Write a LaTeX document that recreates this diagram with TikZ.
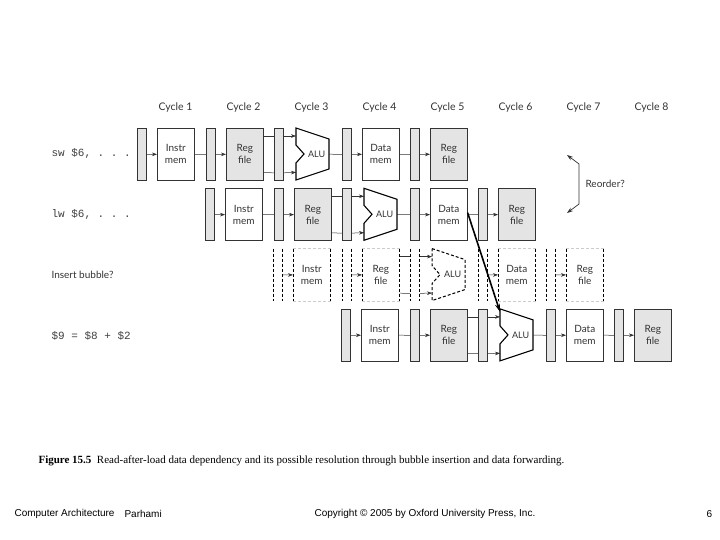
\documentclass[tikz,border=0pt]{standalone}
\usepackage{fontspec}
\setmainfont{Liberation Serif}
\setsansfont{Lato}
\setmonofont{Liberation Mono}
\usetikzlibrary{arrows.meta,calc}
\definecolor{edge}{HTML}{333333}
\definecolor{shade}{HTML}{E4E4E4}
\tikzset{
  latch/.style={draw=edge, fill=shade, minimum width=9pt, minimum height=52pt, inner sep=0pt, line width=0.8pt, anchor=north west},
  unit/.style={draw=edge, fill=white, minimum width=37pt, minimum height=52pt, inner sep=0pt, line width=0.6pt, anchor=north west,
    font=\sffamily\fontsize{10}{12}\selectfont, align=center, text=black!80},
  regf/.style={unit, fill=shade},
  dlatch/.style={latch, draw=none, fill=none},
  dunit/.style={unit, draw=none, fill=none},
  alubox/.style={minimum width=33pt, minimum height=52pt, inner sep=0pt, anchor=north west},
  arr/.style={-{Stealth[length=5pt,width=3.6pt]}, line width=0.5pt, draw=edge},
  wire/.style={line width=0.5pt, draw=edge},
  aluline/.style={line width=1.1pt, draw=black, line join=miter},
  dside/.style={dashed, dash pattern=on 3pt off 2pt, line width=0.7pt, draw=black},
  dtop/.style={dashed, dash pattern=on 3pt off 2pt, line width=0.5pt, draw=black!20},
  cyc/.style={font=\sffamily\fontsize{10.5}{12}\selectfont, text=black!80},
  instr/.style={font=\ttfamily\fontsize{11}{12}\selectfont, text=black!75, anchor=west},
  fwd/.style={-{Stealth[length=8pt,width=5pt]}, line width=1.6pt, draw=black},
  foot/.style={anchor=west, font=\fontspec{Liberation Sans}\fontsize{10}{12}\selectfont},
}
\begin{document}
\begin{tikzpicture}[x=1pt,y=-1pt]
\useasboundingbox (0,0) rectangle (720,540);
% cycle labels
\foreach \k in {1,...,8}
  \node[cyc] (cyc\k) at ({175.5+68*(\k-1)},107.5) {Cycle \k};
% instruction labels
\node[instr] (i1) at (48,154) {sw \$6, . . .};
\node[instr] (i2) at (48,214) {lw \$6, . . .};
\node[anchor=west, font=\sffamily\fontsize{10}{12}\selectfont, text=black!80] (i3) at (48,275) {Insert bubble?};
\node[instr] (i4) at (48,336) {\$9 = \$8 + \$2};
% pipeline rows
\foreach \r/\ls/\us/\rs in {1/latch/unit/regf, 2/latch/unit/regf, 3/dlatch/dunit/dunit, 4/latch/unit/regf}{
  \pgfmathsetmacro{\xo}{137+68*(\r-1)}
  \pgfmathsetmacro{\yt}{128+60.3*(\r-1)}
  \node[\ls] (L\r1) at (\xo,\yt) {};
  \node[\us] (B\r1) at (\xo+20,\yt) {Instr\\mem};
  \node[\ls] (L\r2) at (\xo+69,\yt) {};
  \node[\rs] (B\r2) at (\xo+89,\yt) {Reg\\file};
  \node[\ls] (L\r3) at (\xo+137,\yt) {};
  \node[alubox] (A\r) at (\xo+159,\yt) {};
  \node[font=\sffamily\fontsize{9}{10}\selectfont, text=black!80] (T\r) at ($(A\r.center)+(4,0)$) {ALU};
  \node[\ls] (L\r4) at (\xo+205,\yt) {};
  \node[\us] (B\r4) at (\xo+225,\yt) {Data\\mem};
  \node[\ls] (L\r5) at (\xo+273,\yt) {};
  \node[\rs] (B\r5) at (\xo+293,\yt) {Reg\\file};
  % connectors common to all rows
  \draw[arr] (L\r1.east) -- (B\r1.west);
  \draw[arr] (L\r2.east) -- (B\r2.west);
  \draw[wire] ($(B\r2.north east)+(0,8)$) -- ($(L\r3.north west)+(0,8)$);
  \draw[wire] ($(B\r2.south east)+(0,-8)$) -- ($(L\r3.south west)+(0,-8)$);
  \draw[arr] ($(L\r3.north east)+(0,8)$) -- ($(A\r.north west)+(0,8)$);
  \draw[arr] ($(L\r3.south east)+(0,-8)$) -- ($(A\r.south west)+(0,-8)$);
  \draw[arr] (L\r4.east) -- (B\r4.west);
  \draw[arr] (L\r5.east) -- (B\r5.west);
}
% solid rows: remaining wires and ALU outlines
\foreach \r in {1,2,4}{
  \draw[wire] (B\r1.east) -- (L\r2.west);
  \draw[wire] (A\r.east) -- (L\r4.west);
  \draw[wire] (B\r4.east) -- (L\r5.west);
  \draw[aluline] (A\r.north west) -- ++(33,11) -- ++(0,30) -- ++(-33,11) -- ++(0,-17) -- ++(8,-9) -- ++(-8,-9) -- cycle;
}
% dashed row (bubble)
\foreach \n in {L31,L32,L33,L34,L35}{
  \draw[dside] (\n.north west) -- (\n.south west);
  \draw[dside] (\n.north east) -- (\n.south east);
}
\foreach \n in {B31,B32,B34,B35}{
  \draw[dtop] (\n.north west) -- (\n.north east);
  \draw[dtop] (\n.south west) -- (\n.south east);
  \draw[dside] (\n.north west) -- (\n.south west);
  \draw[dside] (\n.north east) -- (\n.south east);
}
\draw[dside, line width=1pt] (A3.north west) -- ++(33,11) -- ++(0,30) -- ++(-33,11) -- ++(0,-17) -- ++(8,-9) -- ++(-8,-9) -- cycle;
% forwarding arrow
\draw[fwd] ($(B24.east)+(0,-2)$) -- ($(A4.north west)+(0,3)$);
% reorder arrow
\coordinate (r1) at (567,155);
\coordinate (r2) at (579,164);
\coordinate (r3) at (579,204);
\coordinate (r4) at (567,213);
\draw[{Stealth[length=6pt,width=4pt]}-{Stealth[length=6pt,width=4pt]}, line width=0.7pt, draw=edge] (r1) -- (r2) -- (r3) -- (r4);
\node[anchor=west, font=\sffamily\fontsize{10}{12}\selectfont, text=black!80] (ro) at (582,184) {Reorder?};
% caption
\node[anchor=west, font=\fontsize{11}{13}\selectfont] (cap) at (35,461) {\textbf{Figure 15.5}\ \ Read-after-load data dependency and its possible resolution through bubble insertion and data forwarding.};
% footer
\node[foot] (f1) at (11,514) {Computer Architecture};
\node[foot] (f2) at (121,514) {Parhami};
\node[foot] (f3) at (311,514) {Copyright \textcopyright{} 2005 by Oxford University Press, Inc.};
\node[foot] (f4) at (703,514) {6};
\end{tikzpicture}
\end{document}
